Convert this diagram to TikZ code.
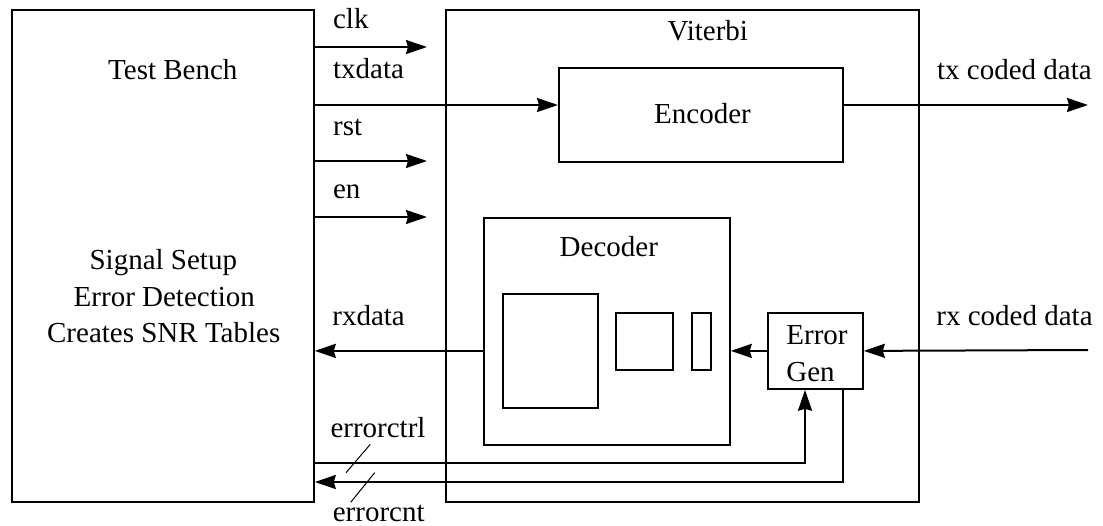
\documentclass[tikz,border=0pt]{standalone}
\usepackage{fontspec}
\setmainfont{Liberation Serif}
\newfontfamily\diagfont{Liberation Serif}
\usetikzlibrary{arrows.meta,calc}

\tikzset{
  blk/.style={draw, line width=0.9pt, inner sep=0pt, rectangle, anchor=north west},
  sig/.style={line width=1pt, -{Stealth[length=10.5pt,width=7pt,inset=1pt]}},
  busmark/.style={line width=0.5pt},
  lbl/.style={inner sep=0pt, font=\diagfont\fontsize{14.5}{18.5}\selectfont},
}

\begin{document}
\begin{tikzpicture}[x=0.5pt,y=-0.5pt]
\useasboundingbox (0,0) rectangle (1103,525);

% blocks (placed by their top-left corner)
\node[blk, minimum width=151pt, minimum height=246pt] (tb)  at (11,9) {};
\node[blk, minimum width=236.5pt, minimum height=246pt] (vit) at (445,9) {};
\node[blk, minimum width=142pt, minimum height=47pt] (enc) at (558,67) {};
\node[blk, minimum width=123pt, minimum height=113.5pt] (dec) at (483,217) {};
\node[blk, minimum width=47.5pt, minimum height=57pt] (big) at (502,293) {};
\node[blk, minimum width=28.5pt, minimum height=28.5pt] (mid) at (615,312) {};
\node[blk, minimum width=9.5pt, minimum height=28.5pt] (nar) at (691,312) {};
\node[blk, minimum width=47.5pt, minimum height=38pt] (eg) at (767,312) {};

% block texts
\node[lbl, anchor=base] (tbtitle) at (172.8,79.3) {Test Bench};
\node[lbl, anchor=base] (tbl1) at (163.3,269) {Signal Setup};
\node[lbl, anchor=base] (tbl2) at (164.3,306.7) {Error Detection};
\node[lbl, anchor=base] (tbl3) at (163.7,342.7) {Creates SNR Tables};
\node[lbl, anchor=base] (vittitle) at (707.8,40.7) {Viterbi};
\node[lbl, anchor=base] (enctitle) at (702.5,123.3) {Encoder};
\node[lbl, anchor=base] (dectitle) at (608.8,256.7) {Decoder};
\node[lbl, anchor=base west] (egl1) at (786,344) {Error};
\node[lbl, anchor=base west] (egl2) at (786,381.7) {Gen};

% free ends of the signal wires
\coordinate (clkend) at (427,47);
\coordinate (ytx) at (0,105);
\coordinate (txend) at (1088,105);
\coordinate (rstend) at (427,161);
\coordinate (enend) at (427,217);
\coordinate (rxstart) at (1088,350);
\coordinate (ectl) at (805,463);
\coordinate (ecnt) at (843,482);

% signals
\draw[sig] (tb.east |- clkend) -- (clkend);
\draw[sig] (tb.east |- ytx) -- (enc.west |- ytx);
\draw[sig] (enc.east |- ytx) -- (txend);
\draw[sig] (tb.east |- rstend) -- (rstend);
\draw[sig] (tb.east |- enend) -- (enend);
\draw[sig] (dec.west |- eg.west) -- (tb.east |- eg.west);
\draw[sig] (eg.west) -- (dec.east |- eg.west);
\draw[sig] (rxstart) -- (eg.east);
\draw[sig] (tb.east |- ectl) -| (eg.south -| ectl);
\draw[sig] (eg.south -| ecnt) |- (tb.east |- ecnt);

% bus marks
\draw[busmark] (346,472.7) -- (370.3,444.3);
\draw[busmark] (350.7,502.3) -- (374.7,472.7);

% signal labels
\node[lbl, anchor=base west] (lclk) at (332.7,28) {clk};
\node[lbl, anchor=base west] (ltx) at (332.7,78) {txdata};
\node[lbl, anchor=base west] (lrst) at (332.7,135) {rst};
\node[lbl, anchor=base west] (len) at (332.7,198) {en};
\node[lbl, anchor=base west] (lrx) at (332,325) {rxdata};
\node[lbl, anchor=base] (lectl) at (378,437.7) {errorctrl};
\node[lbl, anchor=base] (lecnt) at (378.7,521.7) {errorcnt};
\node[lbl, anchor=base west] (ltxc) at (936.7,79) {tx coded data};
\node[lbl, anchor=base west] (lrxc) at (936,325.7) {rx coded data};
\end{tikzpicture}
\end{document}
